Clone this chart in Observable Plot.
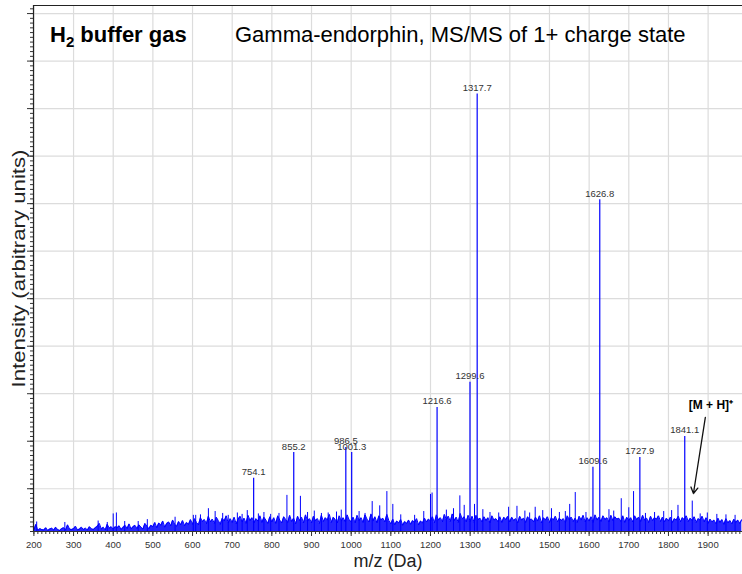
<!DOCTYPE html>
<html><head><meta charset="utf-8">
<script src="https://cdn.jsdelivr.net/npm/d3@7"></script>
<script src="https://cdn.jsdelivr.net/npm/@observablehq/plot@0.6"></script>
<style>
body{margin:0;background:#fff;}
#wrap{position:relative;width:742px;height:574px;}
.ttl{position:absolute;top:24px;font-family:"Liberation Sans",Arial,sans-serif;font-size:22px;line-height:22px;color:#000;white-space:nowrap;z-index:2;}
.ttl sub{font-size:15px;vertical-align:-5px;line-height:0;}
</style></head><body>
<div id="wrap">
<div class="ttl" style="left:50px;font-weight:bold">H<sub>2</sub> buffer gas</div>
<div class="ttl" style="left:235px">Gamma-endorphin, MS/MS of 1+ charge state</div>
</div>
<script>
// ---- data (intensity in arbitrary units) ----
const noiseStart = 200, noiseStep = 5;
const noiseInt = [
0.3,1.5,0.2,0.6,0.4,0.3,0.8,0.2,0.5,0.7, 0.3,0.9,0.4,0.2,0.6,0.8,0.3,1.4,0.5,0.4,
0.6,1.1,0.3,0.5,0.9,0.4,0.7,0.3,1.0,0.6, 0.4,0.8,1.1,1.7,0.5,0.9,0.3,1.5,0.7,1.0,
0.5,1.0,0.8,1.2,0.4,0.9,1.3,0.6,1.6,0.5, 1.0,1.3,0.6,1.4,0.9,0.5,1.7,1.1,0.6,1.3,
1.0,1.9,0.8,1.8,1.3,2.2,0.9,1.7,2.0,1.2, 2.4,1.5,1.1,2.1,1.4,2.3,1.2,1.9,1.5,2.5,
1.5,2.7,1.9,1.4,2.9,2.1,2.5,1.6,3.2,2.0, 2.6,1.7,3.0,2.3,1.5,2.8,2.2,3.3,1.8,2.7,
1.9,3.0,1.6,2.6,3.2,2.0,2.8,1.7,3.4,2.3, 2.9,1.8,2.7,2.2,3.3,1.9,3.0,2.4,1.7,3.1,
2.0,2.9,1.7,3.3,2.4,1.8,3.1,2.5,1.9,3.4, 2.1,2.8,1.6,3.2,2.3,3.0,1.8,3.5,2.2,2.7,
1.8,3.2,2.3,2.7,1.7,3.4,2.1,2.9,2.4,3.6, 1.9,3.0,2.5,1.8,3.3,2.2,2.9,2.0,3.5,2.4,
2.1,3.0,1.8,3.4,2.3,2.9,1.9,3.5,2.6,2.0, 3.7,2.2,3.1,1.8,3.3,2.4,2.8,2.0,3.6,2.3,
1.6,2.6,1.4,2.2,1.8,2.5,1.3,2.1,1.7,2.4, 1.5,2.3,1.9,2.7,1.4,2.2,1.8,2.8,2.0,2.6,
2.2,3.1,1.8,3.5,2.4,2.9,2.0,3.6,2.5,3.2, 2.1,3.7,2.3,3.0,1.9,3.8,2.6,3.1,2.0,3.4,
2.1,3.2,1.9,3.4,2.5,2.8,2.0,3.1,2.3,2.9, 1.8,3.3,2.4,2.7,2.1,3.1,1.9,3.0,2.5,3.2,
2.0,3.0,2.3,2.7,1.8,3.2,2.4,2.8,1.9,3.1, 2.5,2.6,2.0,3.0,2.2,3.3,1.8,2.9,2.4,3.1,
1.9,2.9,2.4,3.2,2.0,2.8,2.3,2.7,1.8,3.3, 2.5,3.0,2.1,2.8,1.9,3.2,2.4,3.4,2.0,2.9,
2.2,3.1,1.9,3.5,2.4,3.0,2.1,3.3,2.5,2.9, 2.0,3.4,2.3,3.1,2.6,2.8,2.1,3.3,1.9,3.0,
2.3,2.9,2.0,3.3,2.5,3.0,2.1,3.4,2.4,2.8, 1.9,3.2,2.3,2.9,2.6,3.3,2.1,3.0,2.0,2.8,
2.2,3.0,1.9,2.7,2.4,3.2,2.0,2.9,2.5,3.3, 2.1,2.8,2.3,3.1,1.9,2.7,2.4,3.2,2.0,2.9,
1.7,2.6,2.0,2.4,1.6,2.8,1.9,2.5,1.5,2.7, 1.8,2.3,1.6,2.6,1.9,2.4,1.7,2.5
];
const minorMz  = [207, 278, 362, 385, 400, 408, 429, 463, 486, 556, 602, 608, 620, 640, 657, 676, 690, 713, 725, 738, 766, 780, 797, 818, 838, 872, 890, 907, 925, 942, 963, 975, 1020, 1035, 1053, 1072, 1090, 1105, 1125, 1160, 1183, 1200, 1204, 1240, 1258, 1274, 1285, 1311, 1332, 1350, 1372, 1397, 1418, 1438, 1450, 1464, 1483, 1505, 1525, 1540, 1551, 1565, 1592, 1650, 1662, 1681, 1700, 1712, 1742, 1765, 1788, 1808, 1824, 1880, 1898, 1922, 1945, 1968];
const minorInt = [2.0, 1.9, 2.2, 1.9, 3.7, 3.9, 2.1, 2.1, 2.5, 3.0, 3.4, 3.4, 3.5, 4.8, 4.2, 3.8, 3.4, 3.9, 3.6, 4.4, 3.7, 4.0, 3.6, 3.8, 7.6, 7.4, 4.0, 4.3, 3.8, 3.9, 4.1, 4.5, 4.2, 3.8, 6.3, 5.4, 8.4, 5.7, 3.5, 3.4, 4.2, 7.8, 8.1, 4.5, 4.8, 7.5, 5.5, 5.7, 4.6, 4.0, 3.9, 5.1, 5.3, 4.3, 3.9, 5.1, 4.4, 4.8, 4.0, 4.2, 5.7, 8.2, 4.0, 4.6, 4.3, 6.9, 5.0, 8.4, 3.8, 4.0, 4.2, 4.4, 5.5, 3.7, 3.9, 3.6, 3.5, 3.4];
const peakMz    = [754.1, 855.2, 986.5, 1001.3, 1216.6, 1299.6, 1317.7, 1609.6, 1626.8, 1727.9, 1841.1];
const peakInt   = [11.2, 16.6, 17.7, 16.6, 26.1, 31.4, 92.1, 13.5, 69.8, 15.6, 20.0];
const peakLabel = ["754.1", "855.2", "986.5", "1001.3", "1216.6", "1299.6", "1317.7", "1609.6", "1626.8", "1727.9", "1841.1"];
const annotMz = [1860], annotInt = [6.4], annotLabel = ["[M + H]\u207A"];
const xTicks = [200, 300, 400, 500, 600, 700, 800, 900, 1000, 1100, 1200, 1300, 1400, 1500, 1600, 1700, 1800, 1900];
const yGrid  = [9, 19, 29, 39, 49, 59, 69, 79, 89, 99, 109];
const xDomain = [199, 1986.7], yDomain = [0, 110.7];

// ---- tables ----
const noise = noiseInt.map((v, i) => ({mz: noiseStart + i * noiseStep, int: v}));
const minor = minorMz.map((m, i) => ({mz: m, int: minorInt[i]}));
const peaks = peakMz.map((m, i) => ({mz: m, int: peakInt[i], label: peakLabel[i]}));
const annot = annotMz.map((m, i) => ({mz: m, int: annotInt[i], label: annotLabel[i]}));
const xMinor = d3.range(200, xDomain[1], 10);
const yMinor = d3.range(0, yDomain[1], 1);

const sans = '"Liberation Sans",Arial,sans-serif';
const blue = "#0000ff";

const chart = Plot.plot({
  width: 742, height: 574,
  marginLeft: 33, marginRight: 0, marginTop: 5, marginBottom: 43,
  style: {fontFamily: sans, fontSize: "9.5px", background: "#fff", overflow: "visible"},
  x: {domain: xDomain, label: null},
  y: {domain: yDomain, label: null},
  marks: [
    Plot.ruleX(xTicks, {stroke: "#dcdcdc", strokeWidth: 1.2}),
    Plot.ruleY(yGrid, {stroke: "#dcdcdc", strokeWidth: 1.2}),
    Plot.ruleY([yDomain[0]], {stroke: "#333"}),
    Plot.areaY(noise, {x: "mz", y: "int", fill: blue, fillOpacity: 0.85}),
    Plot.line(noise, {x: "mz", y: "int", stroke: blue, strokeWidth: 1}),
    Plot.ruleX(minor, {x: "mz", y1: 0, y2: "int", stroke: blue, strokeWidth: 1}),
    Plot.ruleX(peaks, {x: "mz", y1: 0, y2: "int", stroke: blue, strokeWidth: 1.2}),
    Plot.ruleX(annot, {x: "mz", y1: 0, y2: "int", stroke: blue, strokeWidth: 1}),
    Plot.text(peaks, {x: "mz", y: "int", text: "label", dy: -3, lineAnchor: "bottom", fontSize: 9.5, fill: "#333"}),
    Plot.arrow(annot, {x1: d => d.mz + 33, y1: d => d.int + 17.6, x2: d => d.mz + 3, y2: d => d.int + 1.6, stroke: "#111", strokeWidth: 1.3, headLength: 8}),
    Plot.text(annot, {x: d => d.mz + 47, y: d => d.int + 20.2, text: "label", fontSize: 12, fontWeight: "bold", fill: "#000"}),
    Plot.axisX(xTicks, {tickSize: 5, tickPadding: 5, tickFormat: d => String(d), stroke: "#333", fill: "#333", fontSize: 9.5, label: null}),
    Plot.axisX(xMinor, {tickSize: 3, tickFormat: () => "", stroke: "#333", label: null}),
    Plot.axisY(yGrid, {tickSize: 6, tickFormat: () => "", stroke: "#333", label: null}),
    Plot.axisY(yMinor, {tickSize: 3, tickFormat: () => "", stroke: "#333", label: null}),
    Plot.ruleX([xDomain[0]], {stroke: "#222", strokeWidth: 1.2}),
    Plot.ruleY([yDomain[1]], {stroke: "#222", strokeWidth: 1.2}),
    Plot.text(["m/z (Da)"], {frameAnchor: "bottom", dy: 35, fontSize: 18, fill: "#222"}),
    Plot.text(["Intensity (arbitrary units)"], {frameAnchor: "left", textAnchor: "middle", dx: -15, rotate: -90, fontSize: 19, fill: "#222", className: "ylab"})
  ]
});
d3.select(chart).selectAll(".ylab text")
  .attr("textLength", 238)
  .attr("lengthAdjust", "spacingAndGlyphs");
const wrap = document.getElementById("wrap");
wrap.insertBefore(chart, wrap.firstChild);
</script>
</body></html>
